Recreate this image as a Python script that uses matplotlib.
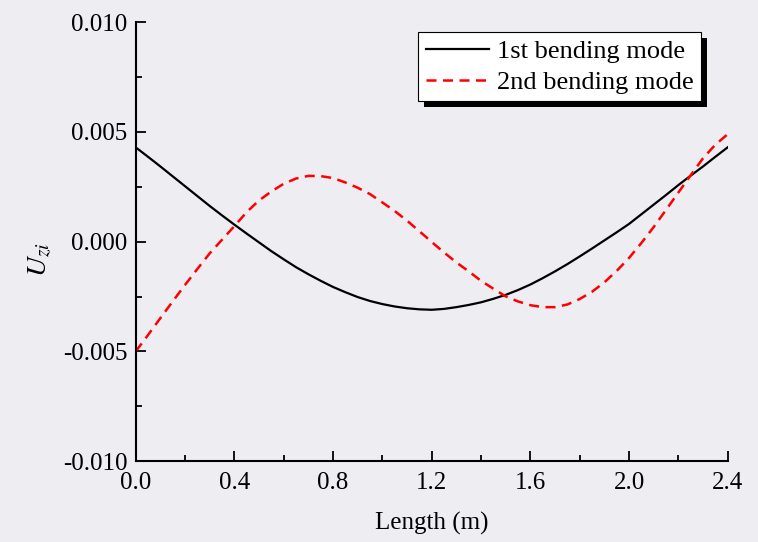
import matplotlib
matplotlib.use("Agg")
import matplotlib.pyplot as plt
from matplotlib.patches import Rectangle
from matplotlib.ticker import MultipleLocator, FormatStrFormatter

plt.rcParams['font.family'] = ['Liberation Serif', 'DejaVu Serif']
plt.rcParams['mathtext.fontset'] = 'stix'

# data (x in m, U in units of 1e-3)
length = [0.00, 0.05, 0.10, 0.15, 0.20, 0.25, 0.30, 0.35, 0.40, 0.45,
          0.50, 0.55, 0.60, 0.65, 0.70, 0.75, 0.80, 0.85, 0.90, 0.95,
          1.00, 1.05, 1.10, 1.15, 1.20, 1.25, 1.30, 1.35, 1.40, 1.45,
          1.50, 1.55, 1.60, 1.65, 1.70, 1.75, 1.80, 1.85, 1.90, 1.95,
          2.00, 2.05, 2.10, 2.15, 2.20, 2.25, 2.30, 2.35, 2.40]
mode1 = [4.30, 3.87, 3.43, 2.98, 2.53, 2.08, 1.63, 1.20, 0.78, 0.37,
         -0.03, -0.43, -0.80, -1.16, -1.48, -1.78, -2.06, -2.30, -2.52, -2.70,
         -2.84, -2.95, -3.03, -3.08, -3.10, -3.06, -2.98, -2.88, -2.76, -2.60,
         -2.42, -2.20, -1.95, -1.66, -1.35, -1.02, -0.67, -0.31, 0.06, 0.43,
         0.81, 1.25, 1.69, 2.13, 2.58, 3.01, 3.43, 3.87, 4.30]
mode2 = [-5.00, -4.25, -3.48, -2.72, -1.97, -1.24, -0.53, 0.09, 0.71, 1.35,
         1.88, 2.29, 2.64, 2.88, 3.00, 2.99, 2.90, 2.70, 2.46, 2.17,
         1.79, 1.40, 0.96, 0.48, -0.01, -0.49, -0.94, -1.35, -1.78, -2.14,
         -2.49, -2.72, -2.89, -2.98, -2.98, -2.86, -2.61, -2.28, -1.85, -1.33,
         -0.74, -0.06, 0.67, 1.45, 2.24, 3.03, 3.80, 4.42, 4.90]
labels = ['1st bending mode', '2nd bending mode']

bg = '#ededf2'
fig = plt.figure(figsize=(7.58, 5.42), dpi=100, facecolor=bg)
ax = fig.add_axes([0.179, 0.149, 0.781, 0.810])
ax.set_facecolor(bg)

ax.plot(length, [v * 1e-3 for v in mode1], color='black', lw=1.6, label=labels[0])
ax.plot(length, [v * 1e-3 for v in mode2], color='red', lw=1.8,
        linestyle=(0, (4, 2.6)), label=labels[1])

ax.set_xlim(0, 2.4)
ax.set_ylim(-0.010, 0.010)
ax.xaxis.set_major_locator(MultipleLocator(0.4))
ax.xaxis.set_minor_locator(MultipleLocator(0.2))
ax.yaxis.set_major_locator(MultipleLocator(0.005))
ax.yaxis.set_minor_locator(MultipleLocator(0.0025))
ax.xaxis.set_major_formatter(FormatStrFormatter('%.1f'))
ax.yaxis.set_major_formatter(FormatStrFormatter('%.3f'))

for s in ['top', 'right']:
    ax.spines[s].set_visible(False)
for s in ['left', 'bottom']:
    ax.spines[s].set_linewidth(1.5)

ax.tick_params(which='both', direction='in', width=1.3, labelsize=18)
ax.tick_params(which='major', length=7)
ax.tick_params(which='minor', length=4)
ax.tick_params(axis='y', which='major', pad=6)
ax.tick_params(axis='x', which='major', pad=8)

ax.set_xlabel('Length (m)', fontsize=18)
ax.xaxis.set_label_coords(0.50, -0.116)
ax.set_ylabel(r'$U_{zi}$', fontsize=20)
ax.yaxis.set_label_coords(-0.14, 0.46)

leg = ax.legend(loc='upper right', bbox_to_anchor=(0.955, 0.977), fontsize=19,
                frameon=True, fancybox=False, edgecolor='black', facecolor='white',
                framealpha=1, handlelength=2.4, borderpad=0.28, labelspacing=0.28,
                handletextpad=0.3, borderaxespad=0)
leg.get_frame().set_linewidth(0.8)
leg.set_zorder(5)

fig.canvas.draw()
bb = leg.get_window_extent()
shadow = Rectangle((bb.x0 + 6, bb.y0 - 6), bb.width, bb.height, transform=None,
                   facecolor='black', edgecolor='none', zorder=4, clip_on=False)
ax.add_artist(shadow)

fig.savefig('out.png', dpi=100, facecolor=bg)
